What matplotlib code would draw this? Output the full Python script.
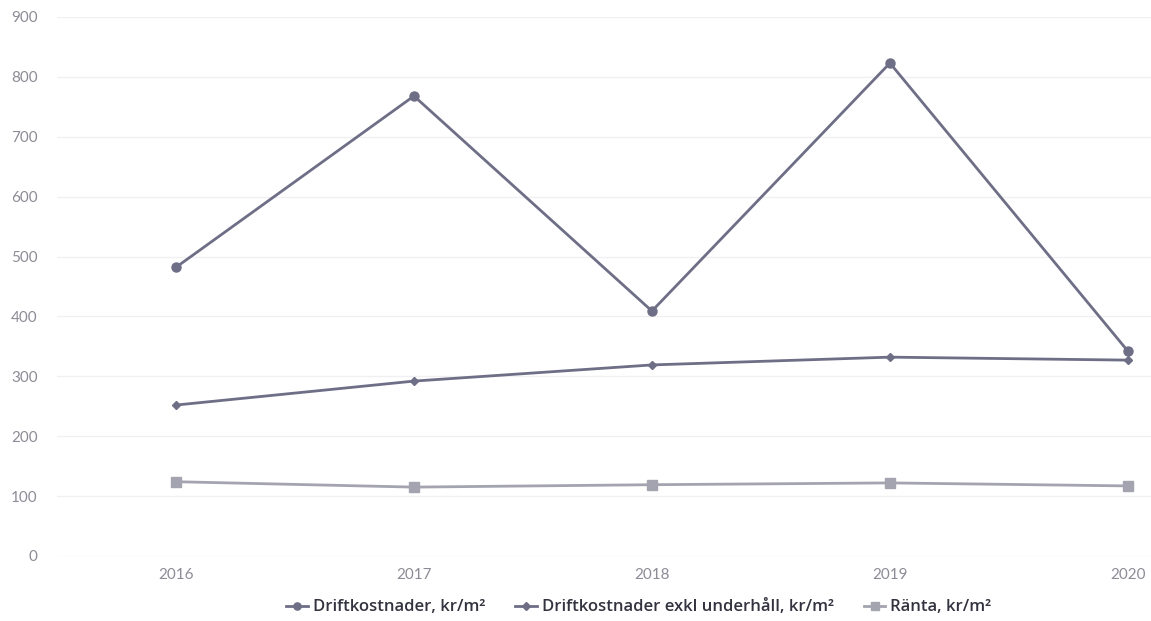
import matplotlib
matplotlib.use("Agg")
import matplotlib.pyplot as plt

# årsdata, kr/m²
years = ["2016", "2017", "2018", "2019", "2020"]
drift = [482, 768, 409, 823, 342]
drift_exkl = [252, 292, 319, 332, 327]
ranta = [124, 115, 119, 122, 117]

fig = plt.figure(figsize=(11.51, 6.21), dpi=100)
ax = fig.add_axes([0.0495, 0.1047, 0.9505, 0.868])

x = range(len(years))
ax.plot(x, drift, color="#6e6e86", lw=2.0, marker="o", ms=6.5,
        label="Driftkostnader, kr/m²")
ax.plot(x, drift_exkl, color="#6e6e86", lw=2.0, marker="D", ms=4.5,
        label="Driftkostnader exkl underhåll, kr/m²")
ax.plot(x, ranta, color="#a4a4b0", lw=2.0, marker="s", ms=6.5,
        label="Ränta, kr/m²")

ax.set_xlim(-0.5, 4.097)
ax.set_ylim(0, 900)
ax.set_yticks(range(0, 901, 100))
ax.set_xticks(list(x))
ax.set_xticklabels(years)
ax.yaxis.grid(True, color="#f0f0f3", lw=1.0)
ax.set_axisbelow(True)
for s in ax.spines.values():
    s.set_visible(False)
ax.tick_params(length=0, labelsize=11, colors="#8c8c96")
ax.tick_params(axis="y", pad=14)
ax.tick_params(axis="x", pad=9)
for lab in ax.get_xticklabels() + ax.get_yticklabels():
    lab.set_fontfamily("Lato")

fig.legend(loc="center", bbox_to_anchor=(0.555, 0.022), ncol=3, frameon=False,
           prop={"family": "Open Sans", "weight": "semibold", "size": 12},
           labelcolor="#333340", handlelength=1.3, handletextpad=0.3,
           columnspacing=1.8, markerscale=0.8)

fig.savefig("out.png", dpi=100, facecolor="white")
